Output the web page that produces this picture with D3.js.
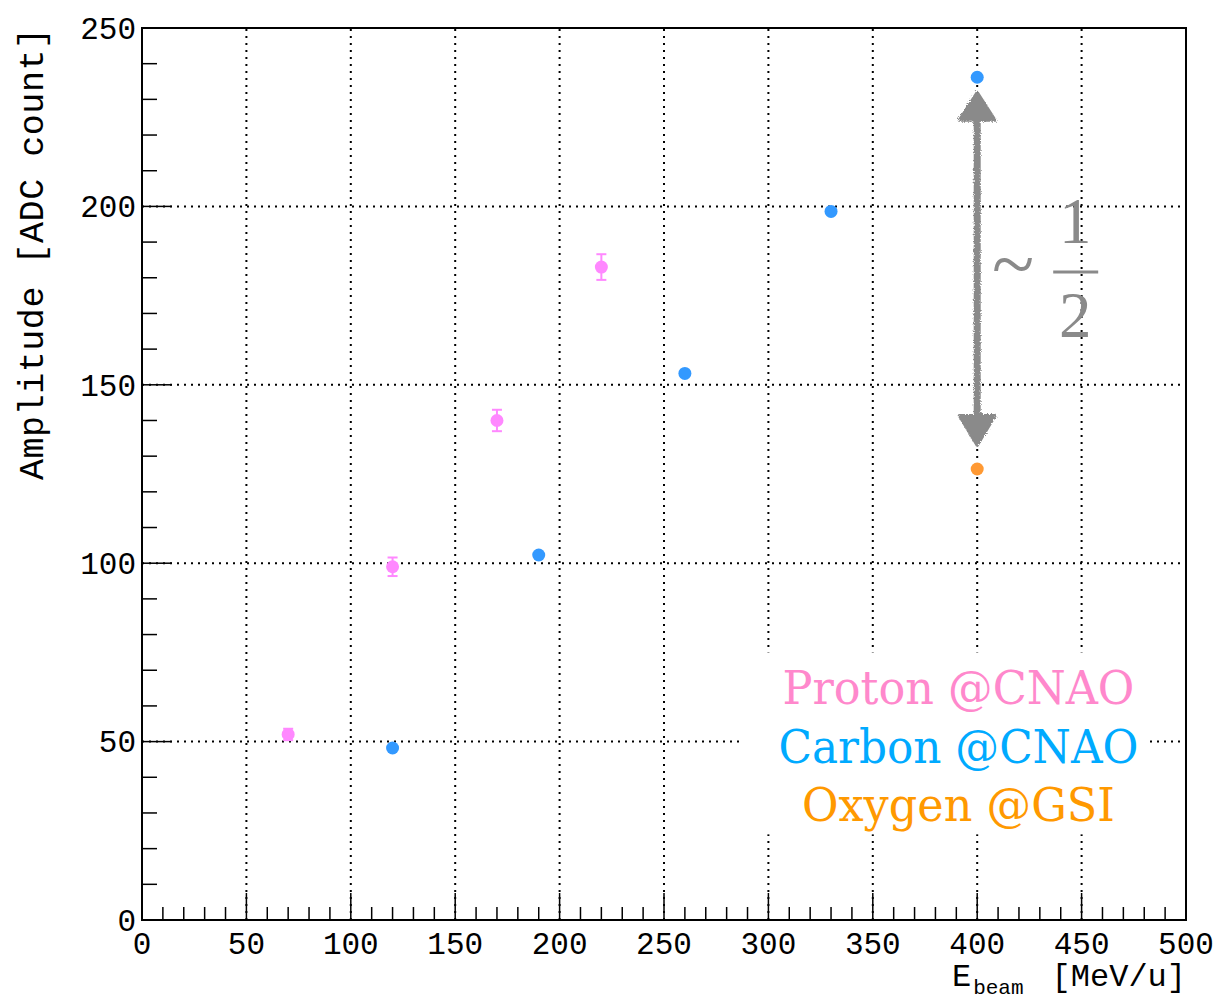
<!DOCTYPE html>
<html>
<head>
<meta charset="utf-8">
<script src="https://cdn.jsdelivr.net/npm/d3@7"></script>
<style>
  body { margin: 0; background: #fff; }
  svg { display: block; }
</style>
</head>
<body>
<svg id="chart" width="1223" height="1001"></svg>
<script>
// data
const protonE = [70, 120, 170, 220];
const protonAmp = [52, 99, 140, 183];
const protonErr = [1.6, 2.6, 3.0, 3.6];
const carbonE = [120, 190, 260, 330, 400];
const carbonAmp = [48.2, 102.3, 153.2, 198.6, 236.2];
const oxygenE = [400];
const oxygenAmp = [126.4];
const arrowE = 400;
const arrowRange = [232, 133];
const xTicks = [0, 50, 100, 150, 200, 250, 300, 350, 400, 450, 500];
const yTicks = [0, 50, 100, 150, 200, 250];
const legendLabels = ['Proton @CNAO', 'Carbon @CNAO', 'Oxygen @GSI'];

const margin = { left: 142, top: 28, right: 37, bottom: 81 };
const width = 1223 - margin.left - margin.right;
const height = 1001 - margin.top - margin.bottom;

const protonColor = '#ff88ff';
const carbonColor = '#3399ff';
const oxygenColor = '#ff9933';
const legendColors = ['#ff88cc', '#00aaff', '#ff9900'];
const legendWidths = [352, 360, 313];
const arrowColor = '#8a8a8a';
const monoFont = '"Liberation Mono", "Courier New", monospace';
const serifFont = '"Liberation Serif", "Times New Roman", serif';

const svg = d3.select('#chart');

// chalky edge for the hand drawn arrow
const filter = svg.append('defs').append('filter')
  .attr('id', 'rough')
  .attr('x', '-20%').attr('y', '-5%')
  .attr('width', '140%').attr('height', '110%');
filter.append('feTurbulence')
  .attr('type', 'fractalNoise')
  .attr('baseFrequency', 0.9)
  .attr('numOctaves', 2)
  .attr('seed', 3)
  .attr('result', 'noise');
filter.append('feDisplacementMap')
  .attr('in', 'SourceGraphic')
  .attr('in2', 'noise')
  .attr('scale', 4);

const g = svg.append('g').attr('transform', `translate(${margin.left},${margin.top})`);

const x = d3.scaleLinear().domain([0, 500]).range([0, width]);
const y = d3.scaleLinear().domain([0, 250]).range([height, 0]);

// grid
const grid = g.append('g')
  .attr('stroke', '#000')
  .attr('stroke-width', 2)
  .attr('stroke-dasharray', '2,5');
grid.selectAll('line.gx')
  .data(xTicks.filter((d) => d > 0 && d < 500))
  .enter()
  .append('line')
  .attr('x1', (d) => x(d)).attr('x2', (d) => x(d))
  .attr('y1', height).attr('y2', 0);
grid.selectAll('line.gy')
  .data(yTicks.filter((d) => d > 0 && d < 250))
  .enter()
  .append('line')
  .attr('y1', (d) => y(d)).attr('y2', (d) => y(d))
  .attr('x1', 0).attr('x2', width);

// legend background hides the grid
g.append('rect')
  .attr('x', x(286)).attr('y', y(75))
  .attr('width', x(482) - x(286)).attr('height', y(24) - y(75))
  .attr('fill', '#fff');

// ticks
const tickG = g.append('g').attr('stroke', '#000').attr('stroke-width', 1.5);
tickG.selectAll('line.tx')
  .data(d3.range(0, 501, 10))
  .enter()
  .append('line')
  .attr('x1', (d) => x(d)).attr('x2', (d) => x(d))
  .attr('y1', height)
  .attr('y2', (d) => height - (d % 50 === 0 ? 27 : 13));
tickG.selectAll('line.ty')
  .data(d3.range(0, 251, 10))
  .enter()
  .append('line')
  .attr('y1', (d) => y(d)).attr('y2', (d) => y(d))
  .attr('x1', 0)
  .attr('x2', (d) => (d % 50 === 0 ? 30 : 15));

// frame
g.append('rect')
  .attr('width', width).attr('height', height)
  .attr('fill', 'none').attr('stroke', '#000').attr('stroke-width', 2);

// tick labels
g.append('g').selectAll('text')
  .data(xTicks)
  .enter()
  .append('text')
  .attr('x', (d) => x(d))
  .attr('y', height + 34)
  .attr('text-anchor', 'middle')
  .attr('font-family', monoFont)
  .attr('font-size', 31)
  .text((d) => d);
g.append('g').selectAll('text')
  .data(yTicks)
  .enter()
  .append('text')
  .attr('x', -6)
  .attr('y', (d) => y(d))
  .attr('dy', '0.35em')
  .attr('text-anchor', 'end')
  .attr('font-family', monoFont)
  .attr('font-size', 31)
  .text((d) => d);

// axis titles
g.append('text')
  .attr('transform', `translate(-99,0) rotate(-90)`)
  .attr('text-anchor', 'end')
  .attr('font-family', monoFont)
  .attr('font-size', 35)
  .attr('textLength', 452)
  .attr('lengthAdjust', 'spacing')
  .text('Amplitude [ADC count]');
const xt = g.append('text')
  .attr('x', width)
  .attr('y', height + 66)
  .attr('text-anchor', 'end')
  .attr('font-family', monoFont)
  .attr('font-size', 32);
xt.append('tspan').text('E');
xt.append('tspan').attr('font-size', 21).attr('dy', 8).attr('dx', 2).text('beam');
xt.append('tspan').attr('dy', -8).attr('dx', 28).text('[MeV/u]');

// arrow
const arrowG = g.append('g')
  .attr('fill', arrowColor).attr('stroke', arrowColor)
  .attr('filter', 'url(#rough)');
const ax = x(arrowE);
const yTop = y(arrowRange[0]);
const yBot = y(arrowRange[1]);
arrowG.append('line')
  .attr('x1', ax).attr('x2', ax)
  .attr('y1', yTop + 20).attr('y2', yBot - 20)
  .attr('stroke-width', 7);
arrowG.append('path')
  .attr('stroke-width', 3)
  .attr('stroke-linejoin', 'round')
  .attr('d', `M${ax},${yTop} L${ax + 18},${yTop + 28} L${ax - 18},${yTop + 28} Z`);
arrowG.append('path')
  .attr('stroke-width', 3)
  .attr('stroke-linejoin', 'round')
  .attr('d', `M${ax},${yBot} L${ax + 18},${yBot - 30} L${ax - 18},${yBot - 30} Z`);

// ~ 1/2 annotation
g.append('text')
  .attr('x', ax + 36).attr('y', y(176.6))
  .attr('text-anchor', 'middle')
  .attr('font-family', serifFont)
  .attr('font-size', 78)
  .attr('fill', arrowColor)
  .text('~');
g.append('text')
  .attr('x', ax + 98).attr('y', y(189.7))
  .attr('text-anchor', 'middle')
  .attr('font-family', serifFont)
  .attr('font-size', 65)
  .attr('fill', arrowColor)
  .text('1');
g.append('line')
  .attr('x1', ax + 76).attr('x2', ax + 121)
  .attr('y1', y(181.6)).attr('y2', y(181.6))
  .attr('stroke', arrowColor).attr('stroke-width', 3);
g.append('text')
  .attr('x', ax + 98).attr('y', y(163.4))
  .attr('text-anchor', 'middle')
  .attr('font-family', serifFont)
  .attr('font-size', 65)
  .attr('fill', arrowColor)
  .text('2');

// proton points with error bars
const pts = protonE.map((e, i) => ({ e, a: protonAmp[i], err: protonErr[i] }));
const errG = g.append('g').attr('stroke', protonColor).attr('stroke-width', 2);
errG.selectAll('line.v')
  .data(pts)
  .enter()
  .append('line')
  .attr('x1', (d) => x(d.e)).attr('x2', (d) => x(d.e))
  .attr('y1', (d) => y(d.a + d.err)).attr('y2', (d) => y(d.a - d.err));
errG.selectAll('line.top')
  .data(pts)
  .enter()
  .append('line')
  .attr('x1', (d) => x(d.e) - 5).attr('x2', (d) => x(d.e) + 5)
  .attr('y1', (d) => y(d.a + d.err)).attr('y2', (d) => y(d.a + d.err));
errG.selectAll('line.bot')
  .data(pts)
  .enter()
  .append('line')
  .attr('x1', (d) => x(d.e) - 5).attr('x2', (d) => x(d.e) + 5)
  .attr('y1', (d) => y(d.a - d.err)).attr('y2', (d) => y(d.a - d.err));
g.append('g').selectAll('circle')
  .data(pts)
  .enter()
  .append('circle')
  .attr('cx', (d) => x(d.e)).attr('cy', (d) => y(d.a))
  .attr('r', 6.5).attr('fill', protonColor);

// carbon
g.append('g').selectAll('circle')
  .data(carbonE.map((e, i) => ({ e, a: carbonAmp[i] })))
  .enter()
  .append('circle')
  .attr('cx', (d) => x(d.e)).attr('cy', (d) => y(d.a))
  .attr('r', 6.5).attr('fill', carbonColor);

// oxygen
g.append('g').selectAll('circle')
  .data(oxygenE.map((e, i) => ({ e, a: oxygenAmp[i] })))
  .enter()
  .append('circle')
  .attr('cx', (d) => x(d.e)).attr('cy', (d) => y(d.a))
  .attr('r', 6.5).attr('fill', oxygenColor);

// legend text
g.append('g').selectAll('text')
  .data(legendLabels)
  .enter()
  .append('text')
  .attr('x', x(391))
  .attr('y', (d, i) => y(60.5) + i * 58.5)
  .attr('text-anchor', 'middle')
  .attr('font-family', '"DejaVu Serif", serif')
  .attr('font-size', 46)
  .attr('textLength', (d, i) => legendWidths[i])
  .attr('lengthAdjust', 'spacingAndGlyphs')
  .attr('fill', (d, i) => legendColors[i])
  .text((d) => d);
</script>
</body>
</html>
